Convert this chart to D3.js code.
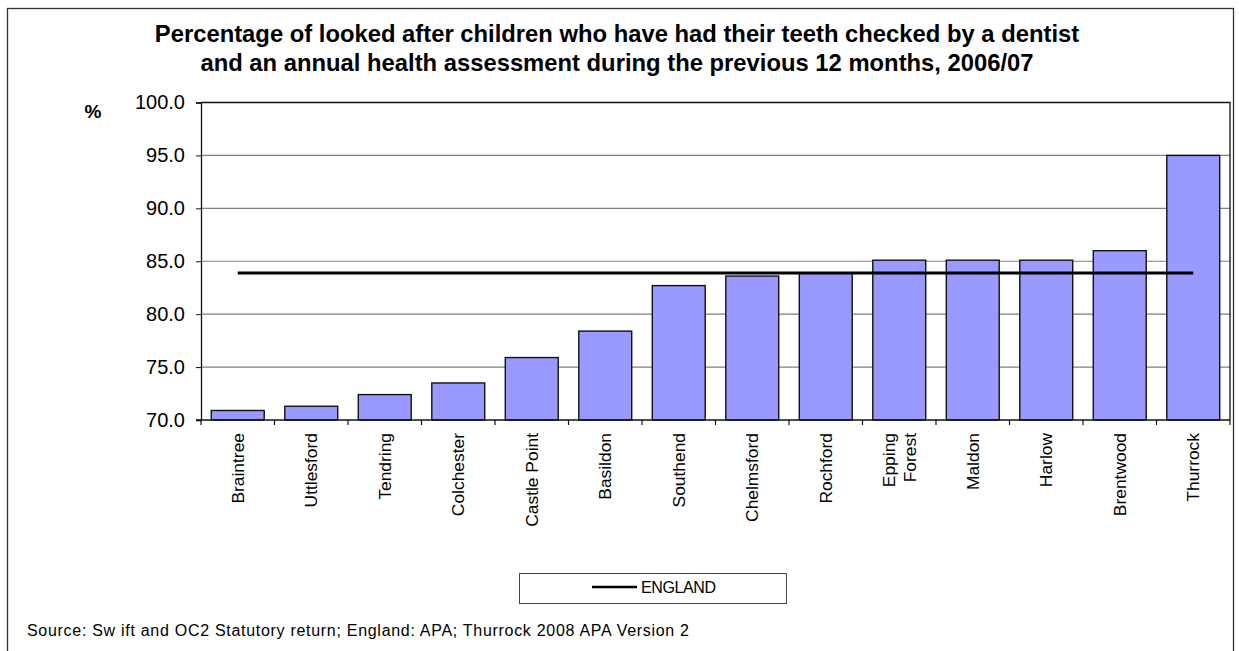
<!DOCTYPE html>
<html>
<head>
<meta charset="utf-8">
<script src="https://cdn.jsdelivr.net/npm/d3@7/dist/d3.min.js"></script>
<style>
  html, body { margin: 0; padding: 0; background: #ffffff; }
  svg { display: block; font-family: "Liberation Sans", Arial, sans-serif; }
</style>
</head>
<body>
<svg id="chart" width="1239" height="651"></svg>
<script>
// Essex districts, % of looked after children with dental check and annual health assessment, 2006/07
const categories = [
  "Braintree", "Uttlesford", "Tendring", "Colchester", "Castle Point", "Basildon",
  "Southend", "Chelmsford", "Rochford", "Epping Forest", "Maldon", "Harlow",
  "Brentwood", "Thurrock"
];
const values = [70.9, 71.3, 72.4, 73.5, 75.9, 78.4, 82.7, 83.6, 83.9, 85.1, 85.1, 85.1, 86.0, 95.0];
const englandValue = 83.9;
const yTicks = [70, 75, 80, 85, 90, 95, 100];
const titleLines = [
  "Percentage of looked after children who have had their teeth checked by a dentist",
  "and an annual health assessment during the previous 12 months, 2006/07"
];
const sourceText = "Source: Sw ift and OC2 Statutory return; England: APA; Thurrock 2008 APA Version 2";

const svg = d3.select("#chart");

// outer chart frame
svg.append("rect")
  .attr("x", 7.5).attr("y", 8.5)
  .attr("width", 1226).attr("height", 660)
  .attr("fill", "#ffffff").attr("stroke", "#333333").attr("stroke-width", 1.3);

// title
svg.append("g").selectAll("text")
  .data(titleLines).join("text")
  .attr("x", 617).attr("y", (d, i) => 42 + i * 28.5)
  .attr("text-anchor", "middle")
  .attr("font-size", 23.8).attr("font-weight", "bold")
  .attr("fill", "#000")
  .text(d => d);

const plot = { left: 201, right: 1230, top: 102.5, bottom: 420 };

const x = d3.scaleBand()
  .domain(categories)
  .range([plot.left, plot.right])
  .paddingInner(0.28)
  .paddingOuter(0.14);

const y = d3.scaleLinear()
  .domain([70, 100])
  .range([plot.bottom, plot.top]);

// horizontal gridlines
svg.append("g").selectAll("line")
  .data(yTicks.filter(t => t > 70 && t < 100)).join("line")
  .attr("x1", plot.left).attr("x2", plot.right)
  .attr("y1", d => y(d)).attr("y2", d => y(d))
  .attr("stroke", "#808080").attr("stroke-width", 1.2);

// plot frame: top and right edges
svg.append("path")
  .attr("d", `M${plot.left},${y(100)}H${plot.right}V${plot.bottom}`)
  .attr("fill", "none").attr("stroke", "#111").attr("stroke-width", 1.3);

// bars
svg.append("g").selectAll("rect")
  .data(values).join("rect")
  .attr("x", (d, i) => x(categories[i]))
  .attr("y", d => y(d))
  .attr("width", x.bandwidth())
  .attr("height", d => y(70) - y(d))
  .attr("fill", "#9999ff")
  .attr("stroke", "#111").attr("stroke-width", 1.4);

// England reference line from first to last category centre
const center = c => x(c) + x.bandwidth() / 2;
svg.append("line")
  .attr("x1", center(categories[0]))
  .attr("x2", center(categories[categories.length - 1]))
  .attr("y1", y(englandValue)).attr("y2", y(englandValue))
  .attr("stroke", "#000").attr("stroke-width", 3);

// y axis
const yAxis = svg.append("g")
  .attr("transform", `translate(${plot.left},0)`)
  .call(d3.axisLeft(y).tickValues(yTicks).tickFormat(d3.format(".1f"))
    .tickSize(5).tickPadding(11));
yAxis.select(".domain").attr("stroke", "#111").attr("stroke-width", 1.3);
yAxis.selectAll(".tick line").attr("stroke", "#111");
yAxis.selectAll(".tick text")
  .attr("font-size", 20).attr("font-family", "Liberation Sans, Arial, sans-serif")
  .attr("fill", "#000");

// "%" unit label
svg.append("text")
  .attr("x", 93).attr("y", 118)
  .attr("text-anchor", "middle")
  .attr("font-size", 19).attr("font-weight", "bold")
  .text("%");

// x axis line and boundary ticks
svg.append("line")
  .attr("x1", plot.left - 5).attr("x2", plot.right)
  .attr("y1", plot.bottom).attr("y2", plot.bottom)
  .attr("stroke", "#111").attr("stroke-width", 1.3);
const boundaries = d3.range(categories.length + 1).map(i => plot.left + i * x.step());
svg.append("g").selectAll("line")
  .data(boundaries).join("line")
  .attr("x1", d => d).attr("x2", d => d)
  .attr("y1", plot.bottom).attr("y2", plot.bottom + 5)
  .attr("stroke", "#111").attr("stroke-width", 1.2);

// rotated category labels (names that wrap are split over two lines)
const wrapped = { "Epping Forest": ["Epping", "Forest"] };
const labels = svg.append("g").selectAll("g")
  .data(categories).join("g")
  .attr("transform", d => `translate(${center(d)},433) rotate(-90)`);
labels.each(function (d) {
  const lines = wrapped[d] || [d];
  const g = d3.select(this);
  lines.forEach((ln, j) => {
    g.append("text")
      .attr("x", 0)
      .attr("y", (j - (lines.length - 1) / 2) * 21)
      .attr("dy", "0.35em")
      .attr("text-anchor", "end")
      .attr("font-size", 17.4)
      .attr("fill", "#000")
      .text(ln);
  });
});

// legend
const legend = svg.append("g");
legend.append("rect")
  .attr("x", 519.5).attr("y", 573.5).attr("width", 267).attr("height", 30)
  .attr("fill", "#fff").attr("stroke", "#444").attr("stroke-width", 1);
legend.append("line")
  .attr("x1", 592).attr("x2", 637).attr("y1", 587).attr("y2", 587)
  .attr("stroke", "#000").attr("stroke-width", 2.6);
legend.append("text")
  .attr("x", 641).attr("y", 592.5)
  .attr("font-size", 16).attr("letter-spacing", -0.4)
  .text("ENGLAND");

// source note
svg.append("text")
  .attr("x", 27).attr("y", 636)
  .attr("font-size", 16)
  .attr("textLength", 662).attr("lengthAdjust", "spacing")
  .attr("fill", "#000")
  .text(sourceText);
</script>
</body>
</html>
